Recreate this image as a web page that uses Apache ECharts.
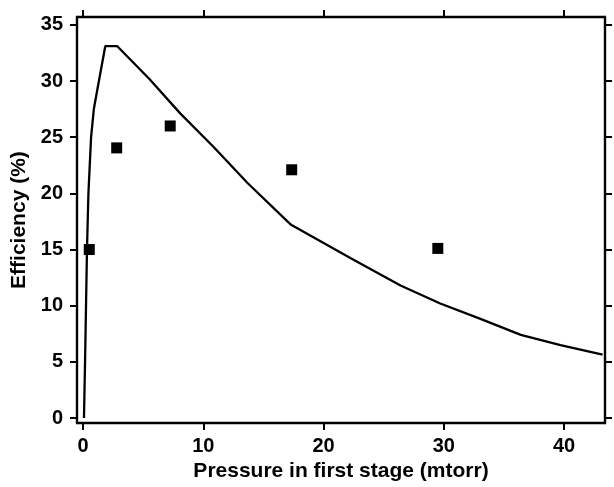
<!DOCTYPE html>
<html>
<head>
<meta charset="utf-8">
<script src="https://cdn.jsdelivr.net/npm/echarts@6/dist/echarts.min.js"></script>
<style>html,body{margin:0;padding:0;background:#fff}#c{width:614px;height:487px}</style>
</head>
<body>
<div id="c"></div>
<script>
var xTicks = [0, 10, 20, 30, 40];
var yTicks = [0, 5, 10, 15, 20, 25, 30, 35];
var measuredX = [0.52, 2.8, 7.25, 17.35, 29.5];
var measuredY = [15.0, 24.05, 26.0, 22.1, 15.1];
var modelX = [0.08, 0.17, 0.25, 0.33, 0.45, 0.67, 0.9, 1.15, 1.85, 2.85, 5.5, 8.1, 10.8, 13.7, 17.3, 22.3, 26.4, 29.7, 33.1, 36.4, 39.7, 43.2];
var modelY = [0, 5, 10, 15, 20, 25, 27.5, 29, 33.1, 33.1, 30.2, 27.1, 24.2, 20.9, 17.2, 14.2, 11.8, 10.2, 8.8, 7.4, 6.5, 5.65];

var font = 'Liberation Sans, Arial, Helvetica, sans-serif';
var chart = echarts.init(document.getElementById('c'));
var axisLine = {show: true, onZero: false, lineStyle: {color: '#000', width: 2.4}};
var tick = {show: true, inside: false, length: 7, lineStyle: {color: '#000', width: 2}};
chart.setOption({
  animation: false,
  backgroundColor: '#fff',
  grid: {left: 77, right: 9, top: 17, bottom: 54, containLabel: false},
  xAxis: [{
    type: 'value', min: -0.5, max: 43.4, position: 'bottom',
    name: 'Pressure in first stage (mtorr)', nameLocation: 'middle', nameGap: 35,
    nameTextStyle: {fontFamily: font, fontWeight: 'bold', fontSize: 21, color: '#000'},
    axisLine: axisLine,
    axisTick: Object.assign({customValues: xTicks}, tick),
    axisLabel: {customValues: xTicks, margin: 13, fontFamily: font, fontWeight: 'bold', fontSize: 20, color: '#000'},
    splitLine: {show: false}
  }, {
    type: 'value', min: -0.5, max: 43.4, position: 'top',
    axisLine: axisLine,
    axisTick: Object.assign({customValues: xTicks}, tick),
    axisLabel: {show: false},
    splitLine: {show: false}
  }],
  yAxis: [{
    type: 'value', min: -0.45, max: 35.7, position: 'left',
    name: 'Efficiency (%)', nameLocation: 'middle', nameGap: 44, nameRotate: 90,
    nameTextStyle: {fontFamily: font, fontWeight: 'bold', fontSize: 21, color: '#000'},
    axisLine: axisLine,
    axisTick: Object.assign({customValues: yTicks}, tick),
    axisLabel: {customValues: yTicks, margin: 14, fontFamily: font, fontWeight: 'bold', fontSize: 20, color: '#000'},
    splitLine: {show: false}
  }, {
    type: 'value', min: -0.45, max: 35.7, position: 'right',
    axisLine: axisLine,
    axisTick: Object.assign({customValues: yTicks}, tick),
    axisLabel: {show: false},
    splitLine: {show: false}
  }],
  series: [{
    type: 'line',
    data: modelX.map(function (x, i) { return [x, modelY[i]]; }),
    showSymbol: false, smooth: false,
    lineStyle: {color: '#000', width: 2.3},
    silent: true
  }, {
    type: 'scatter',
    data: measuredX.map(function (x, i) { return [x, measuredY[i]]; }),
    symbol: 'rect', symbolSize: 11,
    itemStyle: {color: '#000', opacity: 1},
    silent: true
  }]
});
</script>
</body>
</html>
